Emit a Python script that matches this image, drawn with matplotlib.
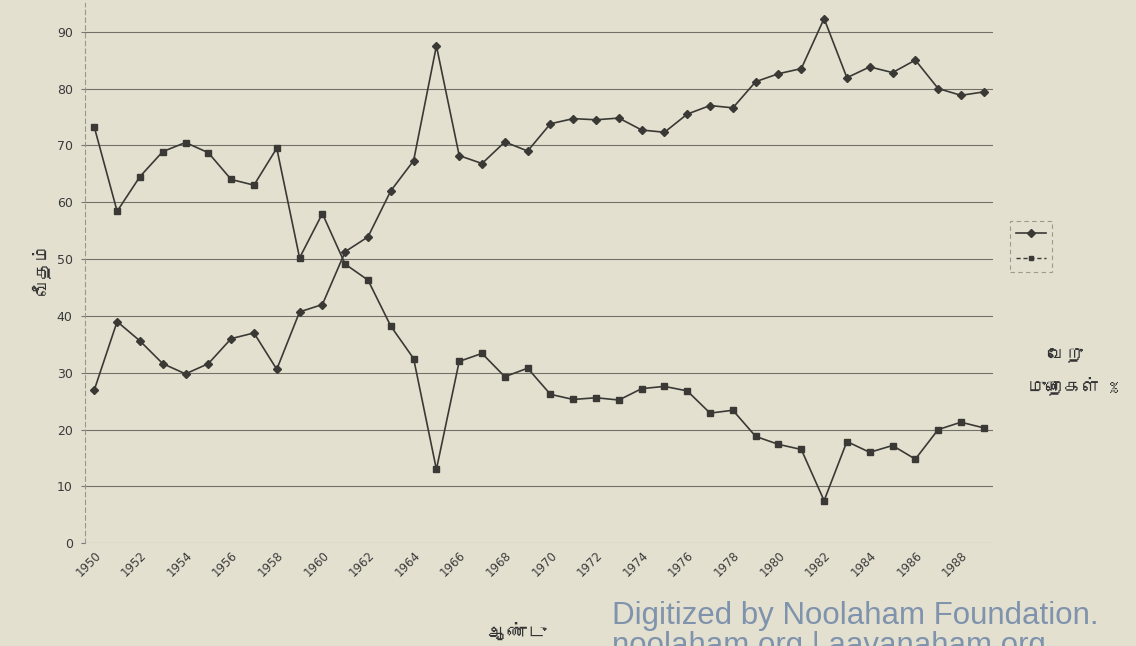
import matplotlib.pyplot as plt
from matplotlib import font_manager
from matplotlib.lines import Line2D

# values (per cent)
years = list(range(1950, 1990))
diamond_vals = [27, 39, 35.6, 31.6, 29.8, 31.6, 36, 37, 30.6, 40.7,
                42, 51.3, 53.9, 62, 67.3, 87.5, 68.2, 66.8, 70.6, 69,
                73.8, 74.7, 74.5, 74.8, 72.7, 72.3, 75.5, 77, 76.6, 81.2,
                82.6, 83.5, 92.3, 81.9, 83.8, 82.8, 85, 80, 78.8, 79.4]
square_vals = [73.2, 58.4, 64.5, 68.9, 70.5, 68.7, 64, 63, 69.5, 50.2,
               58, 49.1, 46.3, 38.2, 32.5, 13, 32, 33.4, 29.3, 30.8,
               26.2, 25.3, 25.6, 25.2, 27.2, 27.6, 26.8, 22.9, 23.4, 18.8,
               17.4, 16.5, 7.5, 17.9, 16, 17.2, 14.8, 20, 21.3, 20.3]
year_ticks = list(range(1950, 1989, 2))
y_ticks = list(range(0, 91, 10))

paper = "#e4e0d0"
ink = "#3b3935"


def find_tamil_font():
    # pick any installed font that has Tamil glyphs, else fall back
    try:
        from fontTools.ttLib import TTFont
    except Exception:
        return None
    for f in font_manager.fontManager.ttflist:
        try:
            cmap = TTFont(f.fname, fontNumber=0, lazy=True).getBestCmap()
            if cmap and 0x0BB5 in cmap:
                return f.name
        except Exception:
            pass
    return None


tamil = find_tamil_font()
tamil_family = [tamil, "DejaVu Sans"] if tamil else ["DejaVu Sans"]

fig = plt.figure(figsize=(11.36, 6.46), dpi=100, facecolor=paper)
ax = fig.add_axes([0.075, 0.159, 0.799, 0.836], facecolor=paper)

ax.plot(years, diamond_vals, color=ink, lw=1.2, marker="D", ms=4.5,
        mfc=ink, mec=ink, zorder=3)
ax.plot(years, square_vals, color=ink, lw=1.2, marker="s", ms=4,
        mfc=ink, mec=ink, zorder=3)

ax.set_xlim(1949.6, 1989.4)
ax.set_ylim(0, 95)
ax.set_yticks(y_ticks)
ax.set_xticks(year_ticks)
ax.set_xticklabels([str(y) for y in year_ticks], rotation=45,
                   ha="right", rotation_mode="anchor")
ax.tick_params(axis="x", length=0, labelsize=8.5, colors="#3a3a3a", pad=4)
ax.tick_params(axis="y", length=3, labelsize=9, colors="#3a3a3a",
               color="#777777", pad=6)

ax.grid(axis="y", color="#4d4b47", lw=0.8, alpha=0.75)
ax.grid(axis="x", visible=False)
for side in ["top", "right", "bottom"]:
    ax.spines[side].set_visible(False)
ax.spines["left"].set_color("#9a978c")
ax.spines["left"].set_linestyle((0, (4, 3)))
ax.spines["left"].set_linewidth(0.8)

# legend box, its labels are cut off in the scan
handles = [Line2D([], [], color=ink, lw=1.2, marker="D", ms=4.5),
           Line2D([], [], color=ink, lw=1.0, marker="s", ms=3.5,
                  linestyle=(0, (3, 2)))]
leg = fig.legend(handles, ["", ""], loc="upper left",
                 bbox_to_anchor=(0.883, 0.668), frameon=True,
                 handlelength=2.2, handletextpad=0, borderpad=0.4,
                 labelspacing=0.8, fancybox=False)
leg.get_frame().set_facecolor(paper)
leg.get_frame().set_edgecolor("#8a877c")
leg.get_frame().set_linestyle((0, (4, 3)))
leg.get_frame().set_linewidth(0.8)

fig.text(0.036, 0.585, "வீதம்", rotation=90, ha="center", va="center",
         fontsize=13, color="#333333", family=tamil_family)
fig.text(0.455, 0.022, "ஆண்டு", ha="center", va="center", fontsize=14,
         style="italic", color="#333333", family=tamil_family)
fig.text(0.938, 0.45, "வேறு", ha="center", va="center", fontsize=13,
         style="italic", color="#333333", family=tamil_family)
fig.text(0.905, 0.403, "முறைகள் %", ha="left", va="center", fontsize=13,
         style="italic", color="#333333", family=tamil_family)

fig.text(0.539, 0.034, "Digitized by Noolaham Foundation.", ha="left",
         va="baseline", fontsize=22.5, color="#7f93ad",
         family="Liberation Sans")
fig.text(0.539, -0.012, "noolaham.org | aavanaham.org", ha="left",
         va="baseline", fontsize=22.5, color="#7f93ad",
         family="Liberation Sans")

fig.savefig("out.png", dpi=100, facecolor=paper)
